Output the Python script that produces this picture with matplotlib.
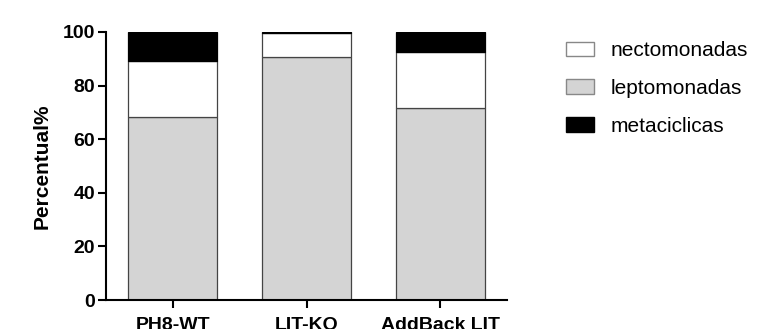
import matplotlib.pyplot as plt
import numpy as np
from matplotlib.patches import Patch

plt.rcParams['font.family'] = ['Liberation Sans', 'DejaVu Sans']

# Data (percent of each form per strain)
strains = ['PH8-WT', 'LIT-KO', 'AddBack LIT']
leptomonadas = [68.4, 90.8, 71.6]
nectomonadas = [20.9, 8.7, 20.8]
metaciclicas = [10.7, 0.5, 7.6]

fig = plt.figure(figsize=(7.74, 3.29), dpi=100)
ax = fig.add_axes([0.137, 0.088, 0.518, 0.815])

x = np.arange(len(strains))
width = 0.665
edge = '#444444'

lep = np.array(leptomonadas)
nec = np.array(nectomonadas)
met = np.array(metaciclicas)

ax.bar(x, lep, width, color='#d4d4d4', edgecolor=edge, linewidth=0.9)
ax.bar(x, nec, width, bottom=lep, color='white', edgecolor=edge, linewidth=0.9)
ax.bar(x, met, width, bottom=lep + nec, color='black', edgecolor='black', linewidth=0.9)

ax.set_xlim(-0.5, 2.5)
ax.set_ylim(0, 100)
ax.set_yticks([0, 20, 40, 60, 80, 100])
ax.set_xticks(x)
ax.set_xticklabels(strains, fontsize=14, fontweight='bold')
for lab in ax.get_yticklabels():
    lab.set_fontsize(14)
    lab.set_fontweight('bold')
ax.set_ylabel('Percentual%', fontsize=15, fontweight='bold', labelpad=8)

ax.spines['top'].set_visible(False)
ax.spines['right'].set_visible(False)
for s in ['left', 'bottom']:
    ax.spines[s].set_linewidth(1.5)
ax.tick_params(direction='out', length=6, width=1.5, pad=2)
ax.tick_params(axis='x', pad=6)

handles = [Patch(facecolor='white', edgecolor='#888888', label='nectomonadas'),
           Patch(facecolor='#d4d4d4', edgecolor='#888888', label='leptomonadas'),
           Patch(facecolor='black', edgecolor='black', label='metaciclicas')]
fig.legend(handles=handles, loc='upper left', bbox_to_anchor=(0.72, 0.9),
           frameon=False, fontsize=15, handlelength=1.35, handleheight=0.7,
           labelspacing=0.9, handletextpad=0.8, borderaxespad=0)

plt.savefig('out.png', dpi=100)
